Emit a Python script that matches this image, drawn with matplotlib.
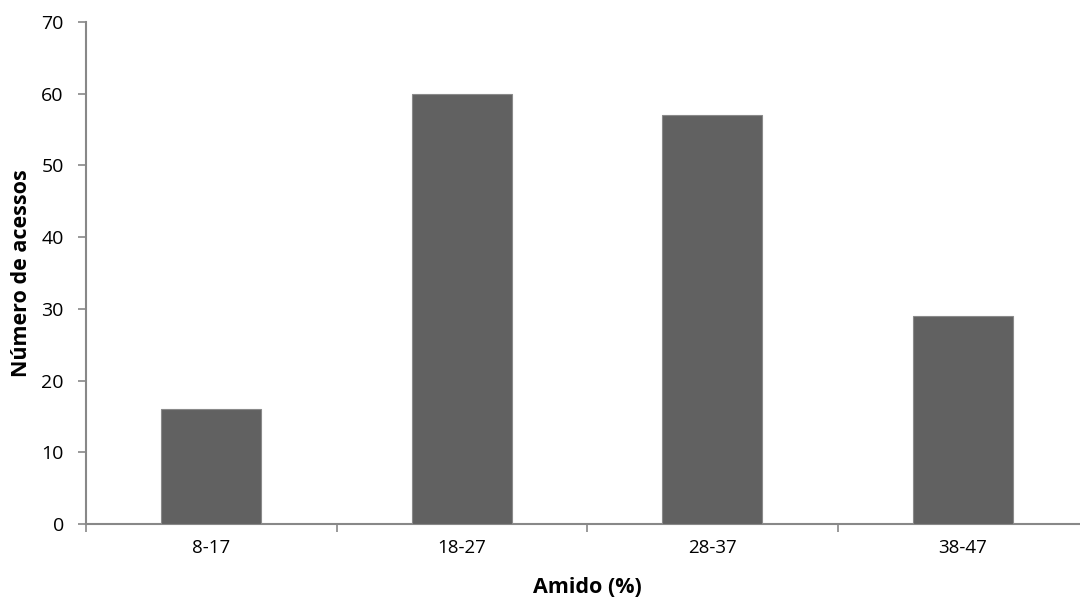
import matplotlib
matplotlib.use("Agg")
import matplotlib.pyplot as plt
import numpy as np

categories = ["8-17", "18-27", "28-37", "38-47"]
values = [16, 60, 57, 29]
yticks = [0, 10, 20, 30, 40, 50, 60, 70]

plt.rcParams['font.family'] = ['Open Sans', 'DejaVu Sans']

fig = plt.figure(figsize=(10.8, 6.01), dpi=100)
ax = fig.add_axes([86/1080, 77/601, (1088-86)/1080, (524-22)/601])

x = np.arange(len(categories))
ax.bar(x, values, width=0.4, color='#616161', edgecolor='#8a8a8a', linewidth=0.8, zorder=3)

ax.set_xlim(-0.5, len(categories) - 0.5)
ax.set_ylim(0, 70)
ax.set_yticks(yticks)
ax.set_yticklabels([str(t) for t in yticks])

ax.set_xticks(x)
ax.set_xticklabels(categories)
ax.tick_params(axis='x', which='major', length=0, pad=11, labelsize=13.5)
ax.set_xticks(np.arange(len(categories) + 1) - 0.5, minor=True)
ax.tick_params(axis='x', which='minor', length=6, width=1.2, color='#888888', direction='out')
ax.tick_params(axis='y', length=6, width=1.2, color='#888888', direction='out', labelsize=14, pad=10)

for s in ['top', 'right']:
    ax.spines[s].set_visible(False)
for s in ['left', 'bottom']:
    ax.spines[s].set_color('#888888')
    ax.spines[s].set_linewidth(1.5)

ax.set_xlabel('Amido (%)', fontsize=15.5, fontweight='bold', labelpad=14)
ax.set_ylabel('Número de acessos', fontsize=15.5, fontweight='bold', labelpad=7)

fig.savefig('out.png', dpi=100)
